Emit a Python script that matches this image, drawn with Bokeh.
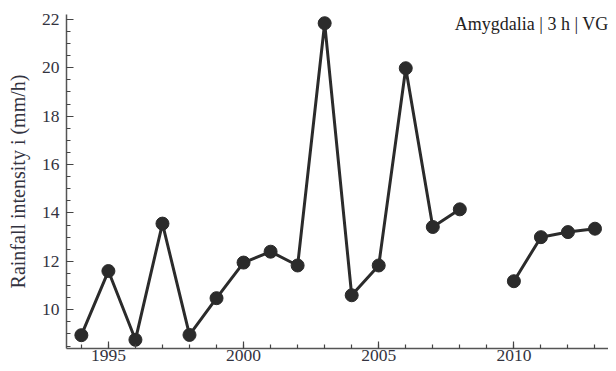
from bokeh.plotting import figure
from bokeh.models import Range1d, SingleIntervalTicker, Label, ColumnDataSource
from bokeh.embed import file_html
from bokeh.resources import INLINE

years = [1994, 1995, 1996, 1997, 1998, 1999, 2000, 2001, 2002, 2003, 2004,
         2005, 2006, 2007, 2008, 2009, 2010, 2011, 2012, 2013]
intensity = [8.95, 11.6, 8.76, 13.56, 8.96, 10.48, 11.95, 12.4, 11.83, 21.84,
             10.6, 11.83, 19.98, 13.42, 14.15, float("nan"), 11.18, 13.0, 13.21, 13.35]
annotation = "Amygdalia | 3 h | VG"
y_label = "Rainfall intensity i (mm/h)"

src = ColumnDataSource(dict(x=years, y=intensity))

X0, X1 = 1993.45, 2013.5
Y0, Y1 = 8.4, 22.2
W, H = 608, 363
LEFT, TOP = 66, 14
FRAME_BOTTOM = 342

p = figure(width=W, height=H, output_backend="svg", toolbar_location=None,
           x_range=Range1d(X0, X1), y_range=Range1d(Y0, Y1),
           min_border_left=LEFT, min_border_right=0, min_border_top=TOP, min_border_bottom=10)
p.outline_line_color = None
p.grid.visible = False
p.background_fill_color = "white"
p.border_fill_color = "white"

p.line("x", "y", source=src, line_color="#2b2b2b", line_width=3)
p.scatter("x", "y", source=src, size=13, fill_color="#2b2b2b", line_color="#2b2b2b")

p.xaxis.ticker = SingleIntervalTicker(interval=5, num_minor_ticks=5)
p.yaxis.ticker = SingleIntervalTicker(interval=2, num_minor_ticks=4)

for ax in (p.xaxis, p.yaxis):
    ax.axis_line_color = "#555555"
    ax.axis_line_width = 1.5
    ax.major_tick_line_color = "#444444"
    ax.minor_tick_line_color = "#444444"
    ax.major_tick_line_width = 1.2
    ax.minor_tick_line_width = 1.2
    ax.major_tick_in = 7
    ax.major_tick_out = 0
    ax.minor_tick_in = 4
    ax.minor_tick_out = 0
    ax.major_label_text_font = "Liberation Serif"
    ax.major_label_text_font_size = "17.5px"
    ax.major_label_text_color = "#333340"

p.xaxis.major_label_standoff = 1
p.yaxis.major_label_standoff = 7
p.yaxis.axis_label = y_label
p.yaxis.axis_label_text_font = "Liberation Serif"
p.yaxis.axis_label_text_font_size = "20px"
p.yaxis.axis_label_text_font_style = "normal"
p.yaxis.axis_label_text_color = "#333340"
p.yaxis.axis_label_standoff = 10

ppu_y = (FRAME_BOTTOM - TOP) / (Y1 - Y0)
p.add_layout(Label(x=X1, y=Y1 - (23 - TOP) / ppu_y, text=annotation, text_align="right",
                   text_baseline="middle", text_font="Liberation Serif",
                   text_font_size="18px", text_color="#222222"))

open("out.html", "w").write(file_html(p, INLINE))
